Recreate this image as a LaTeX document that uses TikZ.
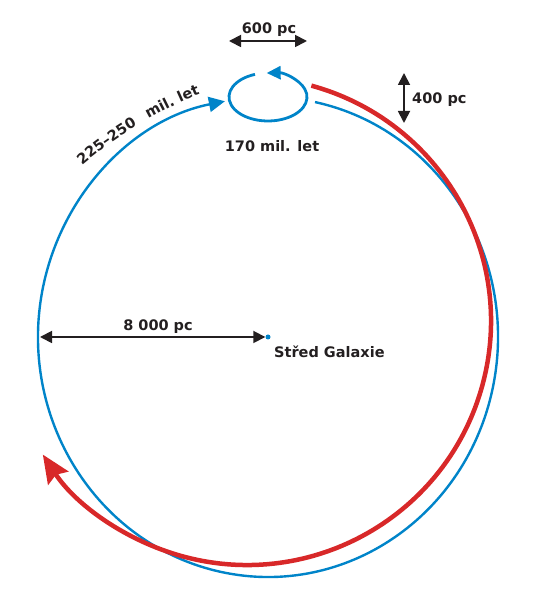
\documentclass[tikz,border=0pt]{standalone}
\usepackage{fontspec}
\newfontfamily\lab{DejaVu Sans}[BoldFont={DejaVu Sans Bold}]
\usetikzlibrary{arrows.meta,calc,decorations.text}
\definecolor{ink}{RGB}{35,31,32}
\definecolor{oblue}{RGB}{0,132,201}
\definecolor{ored}{RGB}{216,40,41}
\tikzset{
  lbl/.style={font=\lab\bfseries\fontsize{14.5}{17}\selectfont, text=ink, inner sep=0pt},
  dim/.style={draw=ink, line width=1.8pt, arrows={Triangle[length=12pt,width=12pt]-Triangle[length=12pt,width=12pt]}},
  orbit/.style={draw=oblue, line width=2.4pt},
  loop/.style={draw=oblue, line width=2.8pt, -{Triangle[length=14pt,width=13pt]}},
  redpath/.style={draw=ored, line width=4.5pt, -{Stealth[length=28pt,width=24pt,inset=4pt]}},
}
\begin{document}
\begin{tikzpicture}[x=1pt,y=1pt]
\useasboundingbox (0,0) rectangle (536,600);
% centres
\coordinate (C) at (268,263);
\coordinate (R) at (247,279);
\coordinate (E) at (268,503);
\coordinate (tc) at (360,105.5);
% big blue orbit
\coordinate (bs) at ($(C)+(78.2:230 and 240)$);
\draw[orbit, -{Triangle[length=16pt,width=15pt]}] (bs) arc[start angle=78.2, end angle=-259.2, x radius=230, y radius=240];
% red path
\coordinate (rs) at ($(R)+(74.7:244)$);
\draw[redpath] (rs) arc[start angle=74.7, end angle=-146.8, radius=244];
% small loop
\coordinate (es) at ($(E)+(109.5:39 and 24)$);
\draw[loop] (es) arc[start angle=109.5, end angle=452, x radius=39, y radius=24];
% centre dot
\node[circle, fill=oblue, inner sep=0pt, minimum size=5pt] (dot) at (C) {};
% dimension arrows
\coordinate (L) at (40,263);
\draw[dim] (L) -- (dot.west);
\coordinate (a1) at (229,559);
\coordinate (a2) at (307,559);
\draw[dim] (a1) -- (a2);
\coordinate (b1) at (404,527);
\coordinate (b2) at (404,477);
\draw[dim] (b1) -- (b2);
% labels
\node[lbl] (d600) at (269,570) {600 pc};
\node[lbl, anchor=west] (d400) at (412,500.5) {400 pc};
\node[lbl] (p170) at (272,454) {170 mil. let};
\node[lbl] (d8000) at (158,273) {8 000 pc};
\node[lbl, anchor=west] (sg) at (274,248) {Střed Galaxie};
% curved label
\coordinate (t1) at ($(tc)+(130.15:431)$);
\coordinate (t2) at ($(tc)+(119.4:431)$);
\path[decorate, decoration={text along path, text color=ink, text align=left,
  text={|\lab\bfseries\fontsize{14.5}{17}\selectfont|225–250}}]
  (t1) arc[start angle=130.15, end angle=110, radius=431];
\path[decorate, decoration={text along path, text color=ink, text align=left,
  text={|\lab\bfseries\fontsize{14.5}{17}\selectfont|mil. let}}]
  (t2) arc[start angle=119.4, end angle=100, radius=431];
\end{tikzpicture}
\end{document}
